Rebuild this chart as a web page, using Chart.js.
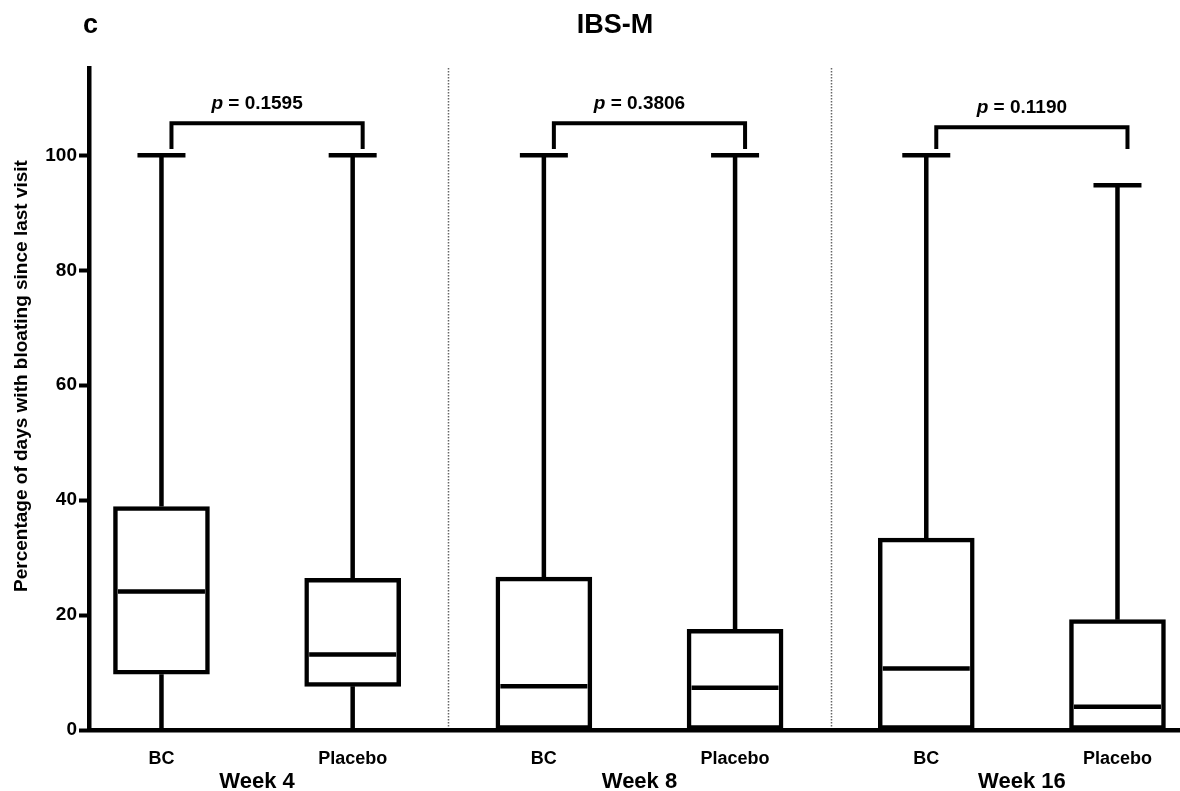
<!DOCTYPE html>
<html><head><meta charset="utf-8">
<script src="https://cdn.jsdelivr.net/npm/chart.js@4"></script>
<style>html,body{margin:0;padding:0;background:#fff}</style>
</head><body>
<canvas id="c" width="1180" height="791"></canvas>
<script>
// ---- data ----
const categories = ['BC', 'Placebo', 'BC', 'Placebo', 'BC', 'Placebo'];
const weekLabels = ['Week 4', 'Week 8', 'Week 16'];
const pValues = ['0.1595', '0.3806', '0.1190'];
const minValues = [0, 0, 0, 0, 0, 0];
const q1Values = [9.7, 7.6, 0, 0, 0, 0];
const medianValues = [24.1, 13.15, 7.6, 7.35, 10.7, 4.05];
const q3Values = [38.9, 26.4, 26.6, 17.5, 33.4, 19.2];
const maxValues = [100, 100, 100, 100, 100, 94.8];
const yTickValues = [0, 20, 40, 60, 80, 100];
const yAxisTitle = 'Percentage of days with bloating since last visit';
const chartTitle = 'IBS-M';
const panelLetter = 'c';

// ---- style ----
const FONT = "'Liberation Sans', Arial, Helvetica, sans-serif";
const LW = 4.5;
const BOX_W = 96;
const CAP_HALF = 24;

const extras = {
  id: 'boxExtras',
  afterDatasetsDraw(chart, args, opts) {
    const ctx = chart.ctx, xs = chart.scales.x, ys = chart.scales.y, area = chart.chartArea;
    ctx.save();
    // dotted separators between weeks
    ctx.strokeStyle = '#666';
    ctx.lineWidth = 1.5;
    ctx.setLineDash([1.5, 1.5]);
    for (let w = 1; w < weekLabels.length; w++) {
      const px = Math.round(xs.getPixelForValue(2 * w - 0.5)) + 0.5;
      ctx.beginPath();
      ctx.moveTo(px, area.top);
      ctx.lineTo(px, area.bottom - LW / 2);
      ctx.stroke();
    }
    ctx.setLineDash([]);
    // whiskers, caps, medians
    ctx.strokeStyle = '#000';
    ctx.lineWidth = LW;
    ctx.lineCap = 'butt';
    categories.forEach((c, i) => {
      const cx = xs.getPixelForValue(i);
      const yMax = ys.getPixelForValue(maxValues[i]);
      const yQ3 = ys.getPixelForValue(q3Values[i]);
      const yQ1 = ys.getPixelForValue(q1Values[i]);
      const yMin = ys.getPixelForValue(minValues[i]);
      const yMed = ys.getPixelForValue(medianValues[i]);
      ctx.beginPath();
      ctx.moveTo(cx, yQ3); ctx.lineTo(cx, yMax);
      ctx.moveTo(cx - CAP_HALF, yMax); ctx.lineTo(cx + CAP_HALF, yMax);
      if (q1Values[i] > minValues[i]) {
        ctx.moveTo(cx, yQ1); ctx.lineTo(cx, yMin);
      }
      ctx.moveTo(cx - BOX_W / 2 + LW, yMed); ctx.lineTo(cx + BOX_W / 2 - LW, yMed);
      ctx.stroke();
    });
    // brackets + p values
    ctx.lineWidth = 4;
    ctx.lineJoin = 'miter';
    weekLabels.forEach((wl, w) => {
      const l = xs.getPixelForValue(2 * w) + opts.bracketShift;
      const r = xs.getPixelForValue(2 * w + 1) + opts.bracketShift;
      const t = ys.getPixelForValue(opts.bracketTop[w]);
      const b = ys.getPixelForValue(opts.bracketBottom);
      ctx.beginPath();
      ctx.moveTo(l, b); ctx.lineTo(l, t); ctx.lineTo(r, t); ctx.lineTo(r, b);
      ctx.stroke();
      const mid = xs.getPixelForValue(2 * w + 0.5);
      const pFont = 'italic bold 19px ' + FONT;
      const vFont = 'bold 19px ' + FONT;
      const rest = ' = ' + pValues[w];
      ctx.font = pFont; const wp = ctx.measureText('p').width;
      ctx.font = vFont; const wr = ctx.measureText(rest).width;
      const start = mid - (wp + wr) / 2;
      ctx.fillStyle = '#000';
      ctx.textAlign = 'left';
      ctx.textBaseline = 'alphabetic';
      ctx.font = pFont; ctx.fillText('p', start, t - 14);
      ctx.font = vFont; ctx.fillText(rest, start + wp, t - 14);
    });
    ctx.restore();
  },
  afterDraw(chart) {
    const ctx = chart.ctx, xs = chart.scales.x;
    ctx.save();
    ctx.fillStyle = '#000';
    ctx.textBaseline = 'alphabetic';
    // week labels
    ctx.font = 'bold 22px ' + FONT;
    ctx.textAlign = 'center';
    weekLabels.forEach((wl, w) => {
      ctx.fillText(wl, xs.getPixelForValue(2 * w + 0.5), 788);
    });
    // title and panel letter
    ctx.font = 'bold 27px ' + FONT;
    ctx.fillText(chartTitle, 615, 33);
    ctx.textAlign = 'left';
    ctx.fillText(panelLetter, 83, 33);
    // y axis title
    ctx.font = 'bold 19px ' + FONT;
    ctx.textAlign = 'center';
    ctx.translate(27, 376);
    ctx.rotate(-Math.PI / 2);
    ctx.fillText(yAxisTitle, 0, 0);
    ctx.restore();
  }
};

new Chart(document.getElementById('c'), {
  type: 'bar',
  data: {
    datasets: [{
      data: categories.map((c, i) => ({ x: i, y: [q1Values[i], q3Values[i]] })),
      backgroundColor: '#fff',
      borderColor: '#000',
      borderWidth: LW,
      borderSkipped: false,
      barThickness: BOX_W
    }]
  },
  options: {
    responsive: false,
    animation: false,
    layout: { padding: { top: 68, right: 0, bottom: 0, left: 0 } },
    plugins: {
      legend: { display: false },
      tooltip: { enabled: false },
      boxExtras: { bracketTop: [105.6, 105.6, 104.9], bracketBottom: 101.1, bracketShift: 10 }
    },
    scales: {
      x: {
        type: 'linear',
        offset: false,
        min: -0.379,
        max: 5.327,
        afterBuildTicks: ax => { ax.ticks = categories.map((c, i) => ({ value: i })); },
        ticks: {
          autoSkip: false, maxRotation: 0, padding: 10, color: '#000',
          font: { family: FONT, size: 18, weight: 'bold' },
          callback: v => categories[v] ?? ''
        },
        grid: { display: false, offset: false },
        border: { display: true, color: '#000', width: LW },
        afterFit: ax => { ax.height = 61; }
      },
      y: {
        min: 0,
        max: 115.2,
        afterBuildTicks: ax => { ax.ticks = yTickValues.map(v => ({ value: v })); },
        ticks: { padding: 2, color: '#000', font: { family: FONT, size: 19, weight: 'bold' } },
        grid: { drawOnChartArea: false, drawTicks: true, tickLength: 10, tickWidth: 4, tickColor: '#000', color: '#000' },
        border: { display: true, color: '#000', width: LW },
        afterFit: ax => { ax.width = 89; }
      }
    }
  },
  plugins: [extras]
});
</script>
</body></html>
